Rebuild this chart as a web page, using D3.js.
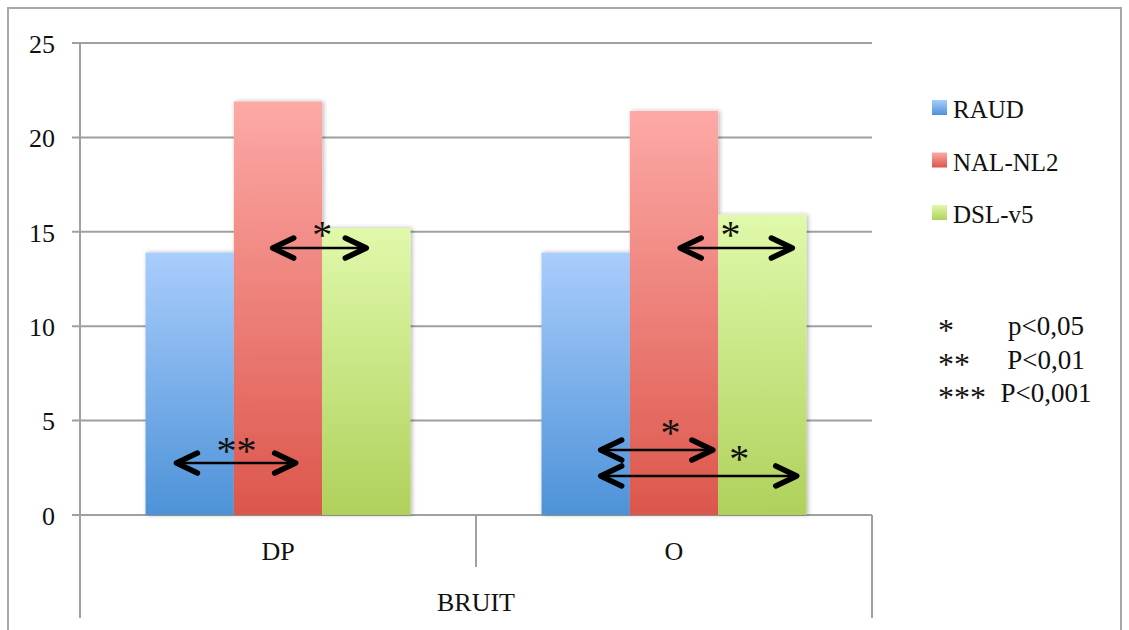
<!DOCTYPE html>
<html>
<head>
<meta charset="utf-8">
<script src="https://cdn.jsdelivr.net/npm/d3@7/dist/d3.min.js"></script>
<style>
  html, body { margin: 0; padding: 0; background: #fff; }
  svg text { font-family: "Liberation Serif", "Times New Roman", serif; fill: #111; }
</style>
</head>
<body>
<svg id="chart" width="1129" height="630"></svg>
<script>
// ---- data ----
const categories = ["DP", "O"];
const groupLabel = "BRUIT";
const series = ["RAUD", "NAL-NL2", "DSL-v5"];
const valuesRAUD = [13.9, 13.9];
const valuesNAL = [21.9, 21.4];
const valuesDSL = [15.2, 15.9];
const yTicks = [0, 5, 10, 15, 20, 25];
// significance arrows: category, start/end in bar units within the group, value level
const arrows = [
  { cat: "DP", u0: 0.35, u1: 1.70, v: 2.75 },
  { cat: "DP", u0: 1.44, u1: 2.50, v: 14.14 },
  { cat: "O",  u0: 1.57, u1: 2.84, v: 14.14 },
  { cat: "O",  u0: 0.67, u1: 1.94, v: 3.44 },
  { cat: "O",  u0: 0.67, u1: 2.89, v: 2.07 }
];
const stars = [
  { cat: "DP", u: 1.03, v: 3.7,  t: "**" },
  { cat: "DP", u: 2.00, v: 15.15, t: "*" },
  { cat: "O",  u: 2.14, v: 15.15, t: "*" },
  { cat: "O",  u: 1.46, v: 4.66, t: "*" },
  { cat: "O",  u: 2.24, v: 3.28, t: "*" }
];
const keyStars = ["*", "**", "***"];
const keyLabels = ["p<0,05", "P<0,01", "P<0,001"];

// ---- layout ----
const FONT = '"Liberation Serif", "Times New Roman", serif';
const svg = d3.select("#chart");
const L = 80, R = 872, T = 43, B = 515;
const colorsTop = ["#a9cdfc", "#fda9a6", "#e0f9ab"];
const colorsBot = ["#4d92d8", "#dc564b", "#afd15b"];

const x = d3.scaleBand().domain(categories).range([L, R]).paddingInner(0).paddingOuter(0);
const xs = d3.scaleBand().domain(series).range([0, x.bandwidth()]).paddingInner(0).paddingOuter(0.742);
const y = d3.scaleLinear().domain([0, 25]).range([B, T]);

const defs = svg.append("defs");
series.forEach((s, i) => {
  const g = defs.append("linearGradient").attr("id", "grad" + i)
    .attr("x1", 0).attr("y1", 0).attr("x2", 0).attr("y2", 1);
  g.append("stop").attr("offset", "0%").attr("stop-color", colorsTop[i]);
  g.append("stop").attr("offset", "100%").attr("stop-color", colorsBot[i]);
});
const f = defs.append("filter").attr("id", "shadow").attr("x", "-10%").attr("y", "-10%").attr("width", "130%").attr("height", "130%");
f.append("feDropShadow").attr("dx", 1.5).attr("dy", 0).attr("stdDeviation", 2)
  .attr("flood-color", "#000").attr("flood-opacity", 0.3);

// outer border
svg.append("rect").attr("x", 8).attr("y", 8).attr("width", 1113).attr("height", 640)
  .attr("fill", "none").attr("stroke", "#a8a8a8").attr("stroke-width", 2);

// gridlines + ticks
const gridG = svg.append("g");
yTicks.forEach(t => {
  gridG.append("line").attr("x1", L - 8).attr("x2", R).attr("y1", y(t)).attr("y2", y(t))
    .attr("stroke", "#a0a0a0").attr("stroke-width", 2);
});
// y axis labels
const yAxis = d3.axisLeft(y).tickValues(yTicks).tickSize(0).tickPadding(25);
const ya = svg.append("g").attr("transform", `translate(${L},0)`).call(yAxis);
ya.attr("font-family", null).attr("font-size", null);
ya.select(".domain").remove();
ya.selectAll("text").style("font-size", "26px").style("fill", "#111")
  .style("font-family", FONT).attr("dy", "0.36em");

// y axis line & category separators
svg.append("line").attr("x1", L).attr("x2", L).attr("y1", T).attr("y2", 618)
  .attr("stroke", "#a0a0a0").attr("stroke-width", 2);
svg.append("line").attr("x1", R).attr("x2", R).attr("y1", B).attr("y2", 618)
  .attr("stroke", "#a0a0a0").attr("stroke-width", 2);
categories.slice(1).forEach(c => {
  svg.append("line").attr("x1", x(c)).attr("x2", x(c)).attr("y1", B).attr("y2", 567)
    .attr("stroke", "#a0a0a0").attr("stroke-width", 2);
});

// bars
const seriesVals = [valuesRAUD, valuesNAL, valuesDSL];
categories.forEach((c, ci) => {
  const g = svg.append("g").attr("filter", "url(#shadow)");
  series.forEach((s, si) => {
    const v = seriesVals[si][ci];
    g.append("rect")
      .attr("x", x(c) + xs(s))
      .attr("y", y(v))
      .attr("width", xs.bandwidth())
      .attr("height", y(0) - y(v))
      .attr("fill", `url(#grad${si})`);
  });
});

// category labels
categories.forEach(c => {
  svg.append("text").attr("x", x(c) + x.bandwidth() / 2).attr("y", 560)
    .attr("text-anchor", "middle").style("font-size", "26px").style("font-family", FONT).text(c);
});
svg.append("text").attr("x", (L + R) / 2).attr("y", 611)
  .attr("text-anchor", "middle").style("font-size", "26px").style("font-family", FONT).text(groupLabel);

// arrows
const ux = (cat, u) => x(cat) + xs(series[0]) + u * xs.step();
const arrG = svg.append("g");
arrows.forEach(a => {
  const x0 = ux(a.cat, a.u0), x1 = ux(a.cat, a.u1), yy = y(a.v);
  arrG.append("line").attr("x1", x0 + 2).attr("x2", x1 - 2).attr("y1", yy).attr("y2", yy)
    .attr("stroke", "#000").attr("stroke-width", 2.5);
  const ah = 21, aw = 10;
  arrG.append("path").attr("d", `M${x0 + ah},${yy - aw} L${x0},${yy} L${x0 + ah},${yy + aw}`)
    .attr("fill", "none").attr("stroke", "#000").attr("stroke-width", 5.5)
    .attr("stroke-linecap", "round").attr("stroke-linejoin", "round");
  arrG.append("path").attr("d", `M${x1 - ah},${yy - aw} L${x1},${yy} L${x1 - ah},${yy + aw}`)
    .attr("fill", "none").attr("stroke", "#000").attr("stroke-width", 5.5)
    .attr("stroke-linecap", "round").attr("stroke-linejoin", "round");
});
stars.forEach(s => {
  svg.append("text").attr("x", ux(s.cat, s.u)).attr("y", y(s.v) + 19)
    .attr("text-anchor", "middle").style("font-size", "40px").style("font-family", FONT).text(s.t);
});

// legend
const lg = svg.append("g");
series.forEach((s, i) => {
  const yy = 100 + i * 52.5;
  lg.append("rect").attr("x", 932).attr("y", yy).attr("width", 15).attr("height", 15)
    .attr("fill", `url(#grad${i})`);
  lg.append("text").attr("x", 953).attr("y", yy + 18).style("font-size", "25px")
    .style("font-family", FONT).text(s);
});

// significance key
keyStars.forEach((s, i) => {
  const yy = 335 + i * 33.5;
  svg.append("text").attr("x", 938).attr("y", yy + 6).style("font-size", "32px")
    .style("font-family", FONT).text(s);
  svg.append("text").attr("x", 1046).attr("y", yy).attr("text-anchor", "middle")
    .style("font-size", "27px").style("font-family", FONT).text(keyLabels[i]);
});
</script>
</body>
</html>
